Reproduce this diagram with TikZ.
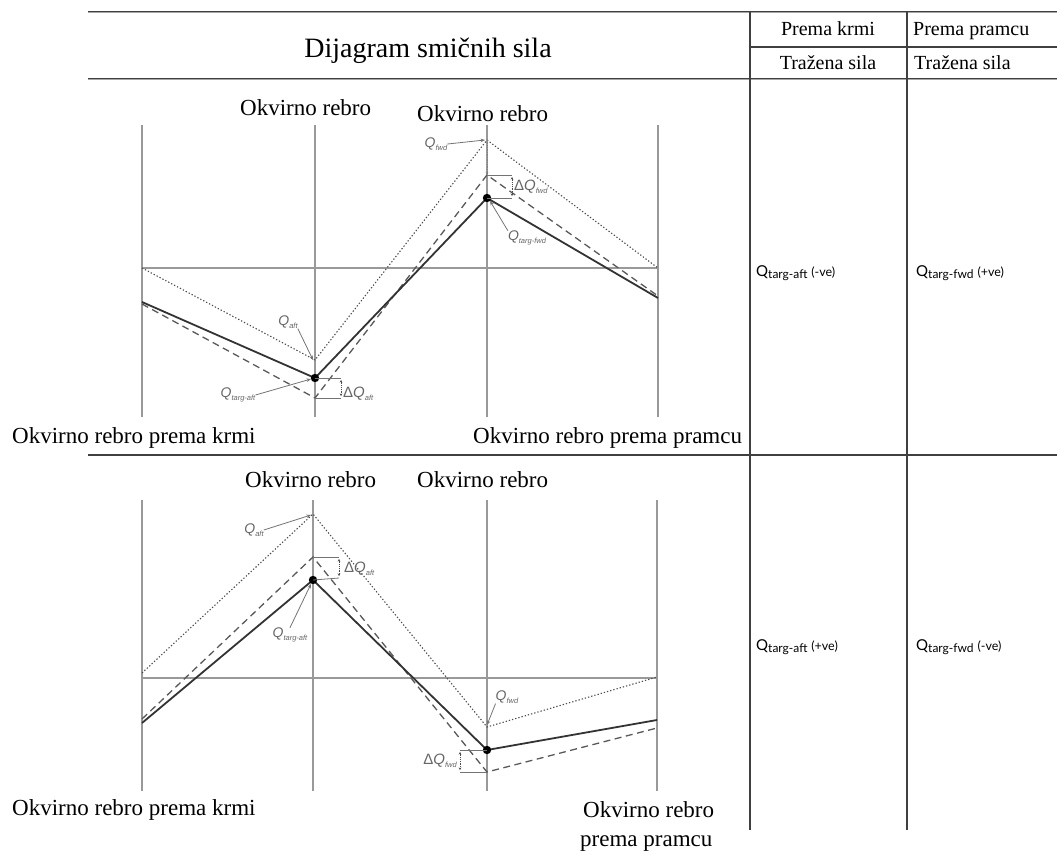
\documentclass[tikz,border=0pt]{standalone}
\usepackage{fontspec}
\setmainfont{Liberation Serif}
\newfontfamily\lsans{Liberation Sans}
\newfontfamily\tsans{Lato}
\usetikzlibrary{arrows.meta}
\newcommand{\qlab}[1]{{\lsans\itshape\fontsize{14}{14}\selectfont Q\raisebox{-3pt}{\fontsize{7.5}{7.5}\selectfont #1}}}
\newcommand{\dqlab}[1]{{\lsans\fontsize{15}{15}\selectfont Δ\itshape Q\raisebox{-3pt}{\fontsize{7.5}{7.5}\selectfont #1}}}
\newcommand{\tq}[2]{{\tsans\fontsize{15}{15}\selectfont Q\raisebox{-2pt}{\fontsize{12}{12}\selectfont targ-#1} {\fontsize{12.5}{13}\selectfont (#2)}}}
\begin{document}
\begin{tikzpicture}[x=1pt,y=-1pt,
  grid/.style={draw=black!40, line width=1.1pt},
  solidl/.style={draw=black!80, line width=1.8pt, line join=round},
  dashl/.style={draw=black!65, line width=1.3pt, dash pattern=on 7pt off 4.5pt},
  dotl/.style={draw=black!70, line width=1.1pt, dash pattern=on 1.3pt off 2pt},
  tline/.style={draw=black!75, line width=1.6pt},
  dline/.style={draw=black!75, line width=1pt, double=black!35, double distance=0.6pt},
  lab/.style={font=\fontsize{23}{26}\selectfont, inner sep=0pt, anchor=base west},
  thead/.style={font=\fontsize{20}{22}\selectfont, inner sep=0pt, anchor=base},
  qn/.style={inner sep=0pt, text=black!60},
  qarr/.style={draw=black!55, line width=0.8pt, -{Stealth[length=4.5pt,width=3.5pt]}},
  dqarr/.style={draw=black!70, line width=0.8pt, densely dotted, {Stealth[length=2.5pt,width=2.5pt]}-{Stealth[length=2.5pt,width=2.5pt]}},
  boxl/.style={draw=black!55, line width=0.8pt},
  vdot/.style={fill=black}]
\useasboundingbox (0,0) rectangle (1057,851);
% ---------- table ----------
\draw[dline] (88,12) -- (1057,12);
\draw[tline] (750,47) -- (1057,47);
\draw[dline] (88,79) -- (1057,79);
\draw[tline] (88,455) -- (1057,455);
\draw[tline] (750,12) -- (750,830);
\draw[tline] (907,12) -- (907,830);
\node[thead, font=\fontsize{28}{30}\selectfont] (hdr) at (428,57) {Dijagram smičnih sila};
\node[thead] (h1) at (828,36) {Prema krmi};
\node[thead] (h2) at (828,70) {Tražena sila};
\node[thead, anchor=base west] (h3) at (913,36) {Prema pramcu};
\node[thead, anchor=base west] (h4) at (914,70) {Tražena sila};
\node[inner sep=0pt, anchor=west] (c1) at (756,273) {\tq{aft}{-ve}};
\node[inner sep=0pt, anchor=west] (c2) at (916,273) {\tq{fwd}{+ve}};
\node[inner sep=0pt, anchor=west] (c3) at (756,647) {\tq{aft}{+ve}};
\node[inner sep=0pt, anchor=west] (c4) at (916,647) {\tq{fwd}{-ve}};
% ---------- top diagram ----------
\foreach \x in {142,315,487,658} \draw[grid] (\x,125) -- (\x,417);
\draw[grid] (142,268) -- (658,268);
\coordinate (s1) at (142,302); \coordinate (s2) at (315,378);
\coordinate (s3) at (487,198); \coordinate (s4) at (658,298);
\coordinate (d1) at (142,304); \coordinate (d2) at (315,398);
\coordinate (d3) at (487,175); \coordinate (d4) at (658,296);
\coordinate (p1) at (142,268); \coordinate (p2) at (315,360);
\coordinate (p3) at (487,140); \coordinate (p4) at (658,268);
\draw[dotl] (p1) -- (p2) -- (p3) -- (p4);
\draw[dashl] (d1) -- (d2) -- (d3) -- (d4);
\draw[solidl] (s1) -- (s2) -- (s3) -- (s4);
\fill[vdot] (s2) circle (4.2pt);
\fill[vdot] (s3) circle (4.2pt);
\draw[draw=black!50, line width=0.7pt, densely dotted, -{Stealth[length=2.5pt,width=2.5pt]}] (p3) -- (d3);
% boxes
\draw[boxl] (s2) -- (341,378);
\draw[boxl] (d2) -- (341,398);
\draw[dqarr] (341,380) -- (341,396);
\draw[boxl] (d3) -- (512,175);
\draw[boxl] (s3) -- (512,198);
\draw[dqarr] (512,177) -- (512,196);
% labels
\node[lab] (ta) at (240,115) {Okvirno rebro};
\node[lab] (tb) at (417,121) {Okvirno rebro};
\node[lab] (tc) at (12,443) {Okvirno rebro prema krmi};
\node[lab] (td) at (473,443) {Okvirno rebro prema pramcu};
\node[qn] (qf1) at (436,144) {\qlab{fwd}};
\draw[qarr] (qf1.east) -- (485,140);
\node[qn, anchor=west] (dqf1) at (514,187) {\dqlab{fwd}};
\node[qn] (qtf1) at (527,238) {\qlab{targ-fwd}};
\draw[qarr] (qtf1.north west) -- (490,201);
\node[qn] (qa1) at (288,322) {\qlab{aft}};
\draw[qarr] (qa1.south east) -- (313,360);
\node[qn] (qta1) at (238,395) {\qlab{targ-aft}};
\draw[qarr] (qta1.east) -- (311,379);
\node[qn, anchor=west] (dqa1) at (343,394) {\dqlab{aft}};
% ---------- bottom diagram ----------
\foreach \x in {142,313,487,657} \draw[grid] (\x,500) -- (\x,791);
\draw[grid] (142,678) -- (657,678);
\coordinate (S1) at (142,723); \coordinate (S2) at (313,580);
\coordinate (S3) at (487,750); \coordinate (S4) at (657,720);
\coordinate (D1) at (142,719); \coordinate (D2) at (313,557);
\coordinate (D3) at (487,772); \coordinate (D4) at (657,728);
\coordinate (P1) at (142,673); \coordinate (P2) at (313,514);
\coordinate (P3) at (487,727); \coordinate (P4) at (657,677);
\draw[dotl] (P1) -- (P2) -- (P3) -- (P4);
\draw[dashl] (D1) -- (D2) -- (D3) -- (D4);
\draw[solidl] (S1) -- (S2) -- (S3) -- (S4);
\fill[vdot] (S2) circle (4.2pt);
\fill[vdot] (S3) circle (4.2pt);
\draw[boxl] (D2) -- (339,557);
\draw[boxl] (S2) -- (339,578);
\draw[dqarr] (339,559) -- (339,576);
\draw[boxl] (S3) -- (460,750);
\draw[boxl] (D3) -- (460,772);
\draw[dqarr] (460,752) -- (460,770);
\node[lab] (ba) at (245,487) {Okvirno rebro};
\node[lab] (bb) at (417,487) {Okvirno rebro};
\node[lab] (bc) at (12,815) {Okvirno rebro prema krmi};
\node[lab] (bd) at (583,817) {Okvirno rebro};
\node[lab] (be) at (580,846) {prema pramcu};
\node[qn] (qa2) at (254,530) {\qlab{aft}};
\draw[qarr] (qa2.east) -- (311,515);
\node[qn, anchor=west] (dqa2) at (344,569) {\dqlab{aft}};
\node[qn] (qta2) at (290,635) {\qlab{targ-aft}};
\draw[qarr] (qta2.north) -- (311,584);
\node[qn] (qf2) at (507,697) {\qlab{fwd}};
\draw[qarr] (qf2.south west) -- (487,725);
\node[qn, anchor=east] (dqf2) at (457,761) {\dqlab{fwd}};
\end{tikzpicture}
\end{document}
